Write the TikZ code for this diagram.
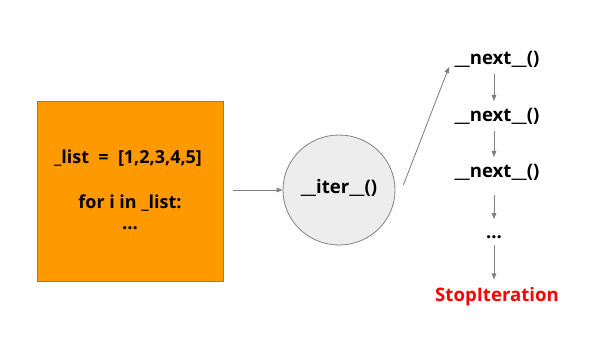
\documentclass[tikz,border=0pt]{standalone}
\usepackage{fontspec}
\setmainfont{Open Sans}
\usepackage{tikz}
\usetikzlibrary{positioning, arrows.meta, shapes.geometric}
\definecolor{listcolor}{RGB}{255, 153, 0}
\definecolor{itercolor}{RGB}{237, 237, 237}
\definecolor{edgecolor}{RGB}{128, 128, 128}
\definecolor{stopcolor}{RGB}{255, 0, 0}

\begin{document}
\begin{tikzpicture}[
    x=0.75bp, y=-0.75bp,
    code/.style={font=\fontsize{14}{16}\selectfont\bfseries, align=center},
    call/.style={code, inner sep=1pt},
    arrow/.style={-{Triangle[length=4.5pt, width=3.5pt]}, draw=edgecolor, fill=edgecolor, line width=0.6pt},
]
\useasboundingbox (0,0) rectangle (595,343);

% List and for loop
\node[draw=edgecolor, fill=listcolor, line width=0.6pt, minimum width=139.5bp, minimum height=135bp] (list) at (130,191) {};
\node[code, font=\fontsize{13.5}{16}\selectfont\bfseries] (line1) at (128,158) {\_list\ \ =\ \ [1,2,3,4,5]};
\node[code, font=\fontsize{13.5}{16}\selectfont\bfseries] (line2) at (130,203) {for i in \_list:};
\node[code] (line3) at (130,228) {...};

% Iterator
\node[ellipse, draw=edgecolor, fill=itercolor, line width=0.6pt, inner sep=0pt,
      minimum width=84bp, minimum height=82.5bp] (iter) at (339,190) {};
\node[code] (itertext) at (339,188) {\_\_iter\_\_()};

% Calls on the iterator
\node[call] (next1) at (497,59) {\_\_next\_\_()};
\node[call] (next2) at (497,116) {\_\_next\_\_()};
\node[call] (next3) at (497,172) {\_\_next\_\_()};
\node[call] (dots) at (494,237) {...};
\node[call, text=stopcolor] (stop) at (497,297) {StopIteration};

% Arrows
\draw[arrow, shorten <=7.5bp] (list.east |- iter.west) -- (iter.west);
\draw[arrow] ([xshift=6bp, yshift=3.75bp]iter.east) -- ([yshift=-6bp, xshift=-3bp]next1.west);
\draw[arrow, shorten <=4bp, shorten >=4bp] (next1.south -| 494,0) -- (next2.north -| 494,0);
\draw[arrow, shorten <=4bp, shorten >=4bp] (next2.south -| 494,0) -- (next3.north -| 494,0);
\draw[arrow, shorten <=10bp, shorten >=11bp] (next3.south -| 494,0) -- (dots.north -| 494,0);
\draw[arrow, shorten <=4bp, shorten >=5bp] (dots.south -| 494,0) -- (stop.north -| 494,0);

\end{tikzpicture}
\end{document}
